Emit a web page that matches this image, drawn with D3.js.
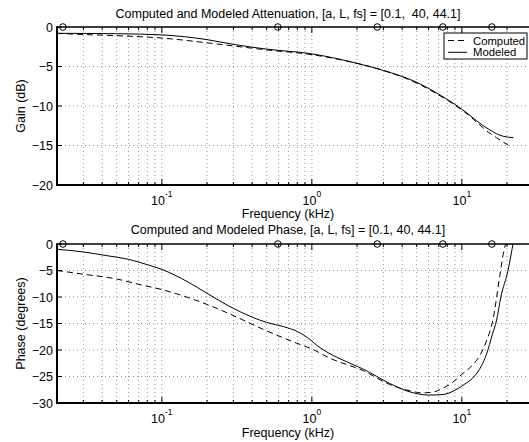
<!DOCTYPE html>
<html>
<head>
<meta charset="utf-8">
<script src="https://cdn.jsdelivr.net/npm/d3@7"></script>
<style>
  body { margin: 0; background: #fff; }
  svg { display: block; font-family: "Liberation Sans", Arial, sans-serif; }
</style>
</head>
<body>
<div id="chart"></div>
<script>
// Frequencies in kHz, gains in dB, phases in degrees
const seriesNames = ["Computed", "Modeled"];

const computedGainFreq = [0.02, 0.03, 0.05, 0.1, 0.2, 0.3, 0.5, 1, 2, 3, 5, 7, 9, 11, 13, 15, 17, 19, 21];
const computedGain     = [-0.8, -0.95, -1.1, -1.4, -2.0, -2.4, -2.9, -3.5, -4.6, -5.5, -7.1, -8.6, -9.9, -11.1, -12.3, -13.3, -14.0, -14.6, -15.1];

const modeledGainFreq = [0.02, 0.05, 0.1, 0.2, 0.3, 0.5, 1, 2, 3, 5, 7, 9, 11, 13, 15, 17, 19, 22.05];
const modeledGain     = [-0.8, -0.85, -1.0, -1.6, -2.2, -2.8, -3.4, -4.6, -5.5, -7.0, -8.5, -9.8, -11.0, -12.1, -12.9, -13.5, -13.85, -14.0];

const computedPhaseFreq = [0.02, 0.03, 0.05, 0.07, 0.1, 0.2, 0.284, 0.474, 0.79, 1.0, 1.31, 2.2, 3.3, 4.5, 5.5, 6.5, 7.5, 8.5, 10, 12, 13.2, 14.5, 16.2, 17.9, 19, 19.8];
const computedPhase     = [-5.0, -5.7, -6.6, -7.6, -8.6, -11.4, -13.2, -16.1, -18.7, -19.8, -21.5, -23.9, -26.5, -27.7, -28.1, -27.9, -27.2, -26.3, -24.6, -22.6, -21.0, -18.5, -14.0, -6.0, -1.5, 0.5];

const modeledPhaseFreq = [0.02, 0.03, 0.043, 0.06, 0.08, 0.1, 0.15, 0.2, 0.284, 0.4, 0.5, 0.65, 0.8, 0.95, 1.1, 1.3, 1.7, 2.2, 3.3, 4.5, 6, 7.5, 9, 10.5, 11.8, 13.5, 14.6, 16, 17, 18.2, 20.3, 22.05];
const modeledPhase     = [-1.0, -1.5, -2.2, -2.9, -3.9, -4.8, -7.2, -9.3, -11.8, -13.8, -14.8, -15.6, -16.5, -17.8, -19.3, -20.6, -22.2, -23.6, -26.3, -27.9, -28.5, -28.4, -27.6, -26.4, -25.3, -23.0, -20.8, -17.0, -14.5, -10.0, -5.0, 0.4];

// Open circle markers along the 0 line
const markerFreq = [0.0219, 0.593, 2.73, 7.47, 15.85];

const gainTicks = [-20, -15, -10, -5, 0];
const phaseTicks = [-30, -25, -20, -15, -10, -5, 0];
const xMajorTicks = [0.1, 1, 10];
const xMajorExp = ["-1", "0", "1"];

const W = 529, H = 442;
const left = 57, decadePx = 150;
const xDomain = [0.02, 30];

const svg = d3.select("#chart").append("svg")
    .attr("width", W)
    .attr("height", H);
svg.append("rect").attr("width", W).attr("height", H).attr("fill", "#fff");

const x = d3.scaleLog()
    .domain(xDomain)
    .range([left, left + decadePx * Math.log10(xDomain[1] / xDomain[0])]);

// every 1..9 x 10^n inside the domain
const xMinor = [];
[0.01, 0.1, 1, 10].forEach(dec => {
    for (let k = 1; k <= 9; k++) {
        const v = +(k * dec).toPrecision(3);
        if (v >= xDomain[0] && v <= xDomain[1]) xMinor.push(v);
    }
});

function toPoints(fr, vals) {
    return fr.map((f, i) => [f, vals[i]]);
}

function drawPanel(cfg) {
    const y = d3.scaleLinear().domain(cfg.yDomain).range([cfg.bottom, cfg.top]);
    const g = svg.append("g");
    const xr = x.range();

    const clipId = "clip" + cfg.id;
    svg.append("clipPath").attr("id", clipId)
        .append("rect")
        .attr("x", xr[0]).attr("y", cfg.top)
        .attr("width", xr[1] - xr[0]).attr("height", cfg.bottom - cfg.top);

    // Grid
    g.append("g").selectAll("line")
        .data(xMinor.filter(v => v > xDomain[0]))
        .join("line")
        .attr("x1", d => x(d)).attr("x2", d => x(d))
        .attr("y1", cfg.top).attr("y2", cfg.bottom)
        .attr("stroke", "#777").attr("stroke-width", 0.8)
        .attr("stroke-dasharray", "1,3");
    g.append("g").selectAll("line")
        .data(cfg.yTicks.slice(1, -1))
        .join("line")
        .attr("x1", xr[0]).attr("x2", xr[1])
        .attr("y1", d => y(d)).attr("y2", d => y(d))
        .attr("stroke", "#777").attr("stroke-width", 0.8)
        .attr("stroke-dasharray", "1,3");

    // Curves
    const line = d3.line()
        .x(d => x(d[0]))
        .y(d => y(d[1]))
        .curve(d3.curveMonotoneX);
    const curves = g.append("g").attr("clip-path", `url(#${clipId})`);
    curves.append("path")
        .datum(toPoints(cfg.computedFreq, cfg.computed))
        .attr("d", line)
        .attr("fill", "none").attr("stroke", "#000").attr("stroke-width", 1)
        .attr("stroke-dasharray", "6,4");
    curves.append("path")
        .datum(toPoints(cfg.modeledFreq, cfg.modeled))
        .attr("d", line)
        .attr("fill", "none").attr("stroke", "#000").attr("stroke-width", 1);

    // Ticks (inside, bottom and top)
    [[cfg.bottom, -1], [cfg.top, 1]].forEach(([yy, dir]) => {
        g.append("g").selectAll("line")
            .data(xMinor)
            .join("line")
            .attr("x1", d => x(d)).attr("x2", d => x(d))
            .attr("y1", yy)
            .attr("y2", d => yy + dir * (xMajorTicks.includes(d) ? 6 : 3))
            .attr("stroke", "#000").attr("stroke-width", 1);
    });
    g.append("g").selectAll("line")
        .data(cfg.yTicks)
        .join("line")
        .attr("x1", xr[0]).attr("x2", xr[0] + 5)
        .attr("y1", d => y(d)).attr("y2", d => y(d))
        .attr("stroke", "#000").attr("stroke-width", 1);

    // Axis lines
    g.append("line")
        .attr("x1", xr[0]).attr("x2", xr[1])
        .attr("y1", cfg.top).attr("y2", cfg.top)
        .attr("stroke", "#000").attr("stroke-width", 1.5);
    g.append("line")
        .attr("x1", xr[0] - 1).attr("x2", xr[1])
        .attr("y1", cfg.bottom).attr("y2", cfg.bottom)
        .attr("stroke", "#000").attr("stroke-width", 2);
    g.append("line")
        .attr("x1", xr[0]).attr("x2", xr[0])
        .attr("y1", cfg.top - 0.75).attr("y2", cfg.bottom + 1)
        .attr("stroke", "#000").attr("stroke-width", 2);

    // Markers
    g.append("g").selectAll("circle")
        .data(markerFreq)
        .join("circle")
        .attr("cx", d => x(d))
        .attr("cy", y(0))
        .attr("r", 3.3)
        .attr("fill", "none").attr("stroke", "#000").attr("stroke-width", 1);

    // Y tick labels
    g.append("g").selectAll("text")
        .data(cfg.yTicks)
        .join("text")
        .attr("x", xr[0] - 4)
        .attr("y", d => y(d))
        .attr("dy", "0.36em")
        .attr("text-anchor", "end")
        .attr("font-size", 12.5)
        .text(d => d < 0 ? "\u2212" + (-d) : d);

    // X tick labels 10^n
    const xl = g.append("g").selectAll("text")
        .data(xMajorTicks)
        .join("text")
        .attr("x", d => x(d))
        .attr("y", cfg.bottom + 20)
        .attr("text-anchor", "middle")
        .attr("font-size", 12.5);
    xl.append("tspan").text("10");
    xl.append("tspan")
        .attr("dy", -8)
        .attr("font-size", 8.5)
        .text((d, i) => xMajorExp[i]);

    // Titles
    svg.append("text")
        .attr("x", 288).attr("y", cfg.titleY)
        .attr("text-anchor", "middle")
        .attr("font-size", 12.5)
        .text(cfg.title);
    svg.append("text")
        .attr("x", 288).attr("y", cfg.xLabelY)
        .attr("text-anchor", "middle")
        .attr("font-size", 12.5)
        .text("Frequency (kHz)");
    svg.append("text")
        .attr("transform", `translate(25,${(cfg.top + cfg.bottom) / 2}) rotate(-90)`)
        .attr("text-anchor", "middle")
        .attr("font-size", 12.5)
        .text(cfg.yLabel);

    if (cfg.legend) {
        const lg = svg.append("g");
        lg.append("rect")
            .attr("x", 444).attr("y", 33)
            .attr("width", 83).attr("height", 26)
            .attr("fill", "#fff").attr("stroke", "#000").attr("stroke-width", 1);
        const row = lg.selectAll("g")
            .data(seriesNames)
            .join("g")
            .attr("transform", (d, i) => `translate(0,${40.5 + i * 11.8})`);
        row.append("line")
            .attr("x1", 448).attr("x2", 467)
            .attr("stroke", "#000").attr("stroke-width", 1)
            .attr("stroke-dasharray", (d, i) => i === 0 ? "6,4" : null);
        row.append("text")
            .attr("x", 473).attr("dy", "0.36em")
            .attr("font-size", 11.3)
            .text(d => d);
    }
}

drawPanel({
    id: "gain", top: 27, bottom: 185, yDomain: [-20, 0], yTicks: gainTicks,
    computedFreq: computedGainFreq, computed: computedGain,
    modeledFreq: modeledGainFreq, modeled: modeledGain,
    title: "Computed and Modeled Attenuation, [a, L, fs] = [0.1,\u00a0 40, 44.1]",
    titleY: 17.5, xLabelY: 217.5, yLabel: "Gain (dB)", legend: true
});

drawPanel({
    id: "phase", top: 244, bottom: 403, yDomain: [-30, 0], yTicks: phaseTicks,
    computedFreq: computedPhaseFreq, computed: computedPhase,
    modeledFreq: modeledPhaseFreq, modeled: modeledPhase,
    title: "Computed and Modeled Phase, [a, L, fs] = [0.1, 40, 44.1]",
    titleY: 233.5, xLabelY: 436.5, yLabel: "Phase (degrees)", legend: false
});
</script>
</body>
</html>
